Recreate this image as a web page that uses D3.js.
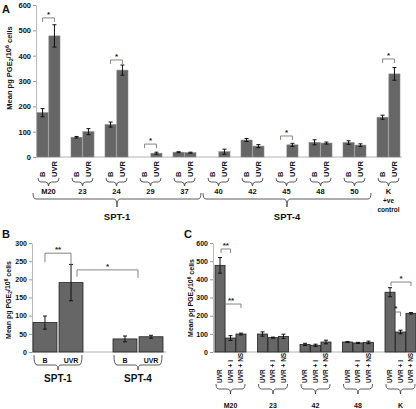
<!DOCTYPE html>
<html><head><meta charset="utf-8">
<script src="https://cdn.jsdelivr.net/npm/d3@7"></script>
<style>body{margin:0;background:#fff}svg{display:block;font-family:"Liberation Sans",Arial,sans-serif;font-weight:bold}</style>
</head><body>
<script>
// ---------- Data ----------
const groupsA = ["M20","23","24","29","37","40","42","45","48","50","K"];
const treatA = ["B","UVR"];
const bValsA = [175,78,128,0,19,0,67,0,58,57,157];
const bErrA  = [16,3,10,0,2,0,6,0,10,7,8];
const uvrValsA = [478,100,343,15,17,21,43,48,55,47,328];
const uvrErrA  = [44,12,20,4,2,10,6,6,4,5,25];
const ticksA = [0,100,200,300,400,500,600];
const sptGroups = [{name:"SPT-1", from:"M20", to:"37"},{name:"SPT-4", from:"40", to:"50"}];
const sigA = [{g:"M20",y:549,t:"*"},{g:"24",y:383,t:"*"},{g:"29",y:51,t:"*"},{g:"45",y:83,t:"*"},{g:"K",y:387,t:"*"}];

const groupsB = ["SPT-1","SPT-4"];
const treatB = ["B","UVR"];
const bValsB = [81,36];
const bErrB  = [18,8];
const uvrValsB = [191,42];
const uvrErrB  = [50,4];
const ticksB = [0,50,100,150,200,250,300];

const groupsC = ["M20","23","42","48","K"];
const treatC = ["UVR","UVR + I","UVR + NS"];
const uvrValsC = [477,99,42,55,329];
const uvrErrC  = [43,12,6,3,25];
const iValsC   = [77,79,37,50,110];
const iErrC    = [13,3,6,3,10];
const nsValsC  = [99,86,55,53,213];
const nsErrC   = [5,12,10,7,4];
const ticksC = [0,100,200,300,400,500,600];
const sigC = [{g:"M20",a:0,b:1,y:567,t:"**"},{g:"M20",a:0,b:2,y:264,t:"**"},{g:"K",a:0,b:2,y:385,t:"*"},{g:"K",a:0,b:1,y:220,t:"*"}];

// ---------- Helpers ----------
const svg = d3.select("body").append("svg").attr("width",416).attr("height",409);

function brace(x0,x1,yTop,yLine,yTick){
  const xc=(x0+x1)/2, r=Math.min(3,(x1-x0)/4);
  return `M${x0},${yTop} Q${x0},${yLine} ${x0+r},${yLine} L${xc-r},${yLine} Q${xc},${yLine} ${xc},${yTick} M${xc},${yTick} Q${xc},${yLine} ${xc+r},${yLine} L${x1-r},${yLine} Q${x1},${yLine} ${x1},${yTop}`;
}
function yTitle(x,y,size){
  const t = svg.append("text").attr("transform",`translate(${x},${y}) rotate(-90)`)
    .attr("text-anchor","middle").attr("font-size",size).attr("dy","0.35em").attr("fill","#111");
  t.append("tspan").text("Mean pg PGE");
  t.append("tspan").attr("font-size",size*0.7).attr("dy","0.3em").text("2");
  t.append("tspan").attr("dy","-0.3em").text("/10");
  t.append("tspan").attr("font-size",size*0.7).attr("dy","-0.4em").text("6");
  t.append("tspan").attr("dy","0.4em").text(" cells");
}
function yAxis(y,x,ticks,fs,col){
  const g = svg.append("g").attr("transform",`translate(${x},0)`)
    .call(d3.axisLeft(y).tickValues(ticks).tickSize(3).tickPadding(2).tickSizeOuter(0));
  g.select(".domain").attr("stroke",col);
  g.selectAll(".tick line").attr("stroke","#999");
  g.selectAll("text").attr("font-size",fs).attr("font-family","Liberation Sans, Arial").attr("font-weight","bold").attr("fill","#111");
}
function errBar(x,y,v,e){
  if(!e) return;
  const g=svg.append("g").attr("stroke","#111").attr("stroke-width",1);
  g.append("line").attr("x1",x).attr("x2",x).attr("y1",y(v+e)).attr("y2",y(v-e));
  g.append("line").attr("x1",x-2).attr("x2",x+2).attr("y1",y(v+e)).attr("y2",y(v+e));
  g.append("line").attr("x1",x-2).attr("x2",x+2).attr("y1",y(v-e)).attr("y2",y(v-e));
}
function sigBracket(xa,xb,yy,la,lb,txt,fs){
  svg.append("path").attr("d",`M${xa},${yy+la} L${xa},${yy} L${xb},${yy} L${xb},${yy+lb}`)
    .attr("fill","none").attr("stroke","#666").attr("stroke-width",0.8);
  svg.append("text").attr("x",(xa+xb)/2).attr("y",yy-1).attr("text-anchor","middle")
    .attr("font-size",fs).attr("fill","#222").text(txt);
}

// ---------- Panel A ----------
const yA = d3.scaleLinear().domain([0,600]).range([157,5]);
const xA = d3.scaleBand().domain(groupsA).range([37,400]).paddingInner(11/34).paddingOuter(0);
const xAi = d3.scaleBand().domain(treatA).range([0,xA.bandwidth()]).paddingInner(0.06);
svg.append("line").attr("x1",36).attr("x2",402).attr("y1",yA(0)).attr("y2",yA(0)).attr("stroke","#ccc").attr("stroke-width",1.5);
yAxis(yA,36,ticksA,7.5,"#bbb");
const dataA = groupsA.flatMap((g,i)=>[{g,t:"B",v:bValsA[i],e:bErrA[i]},{g,t:"UVR",v:uvrValsA[i],e:uvrErrA[i]}]);
svg.append("g").selectAll("rect").data(dataA.filter(d=>d.v>0)).join("rect")
  .attr("x",d=>xA(d.g)+xAi(d.t)).attr("width",xAi.bandwidth())
  .attr("y",d=>yA(d.v)).attr("height",d=>yA(0)-yA(d.v))
  .attr("fill","#666").attr("stroke","#8a8a8a").attr("stroke-width",0.6);
dataA.forEach(d=>{ if(d.v>0) errBar(xA(d.g)+xAi(d.t)+xAi.bandwidth()/2,yA,d.v,d.e); });
// rotated labels
dataA.forEach(d=>{
  const cx = xA(d.g)+xAi(d.t)+xAi.bandwidth()/2;
  svg.append("text").attr("transform",`translate(${cx},177) rotate(-90)`).attr("dy","0.35em")
    .attr("font-size",7.5).attr("fill","#111").text(d.t);
});
groupsA.forEach(g=>{
  const x0=xA(g)+1, x1=xA(g)+xA.bandwidth()-1;
  svg.append("path").attr("d",brace(x0,x1,178,182,186)).attr("fill","none").attr("stroke","#333").attr("stroke-width",0.8);
  svg.append("text").attr("x",(x0+x1)/2).attr("y",194).attr("text-anchor","middle").attr("font-size",7.5).attr("fill","#111").text(g);
});
svg.append("text").attr("x",xA("K")+xA.bandwidth()/2).attr("y",203).attr("text-anchor","middle").attr("font-size",6.5).attr("fill","#111").text("+ve");
svg.append("text").attr("x",xA("K")+xA.bandwidth()/2).attr("y",212).attr("text-anchor","middle").attr("font-size",6.5).attr("fill","#111").text("control");
sptGroups.forEach(s=>{
  const x0=xA(s.from)-4, x1=xA(s.to)+xA.bandwidth()+5;
  svg.append("path").attr("d",brace(x0,x1,193,199,207)).attr("fill","none").attr("stroke","#333").attr("stroke-width",0.8);
  svg.append("text").attr("x",(x0+x1)/2).attr("y",220).attr("text-anchor","middle").attr("font-size",9.5).attr("fill","#111").text(s.name);
});
sigA.forEach(s=>{
  const xa=xA(s.g)+xAi("B")+xAi.bandwidth()/2, xb=xA(s.g)+xAi("UVR")+xAi.bandwidth()/2;
  sigBracket(xa,xb,yA(s.y),4,4,s.t,8);
});
svg.append("text").attr("x",2).attr("y",13).attr("font-size",11).attr("fill","#111").text("A");
yTitle(9,68,7.5);

// ---------- Panel B ----------
const yB = d3.scaleLinear().domain([0,300]).range([352,243]);
const xB = d3.scaleBand().domain(groupsB).range([33,163]).paddingInner(0.375).paddingOuter(0);
const xBi = d3.scaleBand().domain(treatB).range([0,xB.bandwidth()]).paddingInner(0.08);
svg.append("line").attr("x1",32).attr("x2",166).attr("y1",yB(0)).attr("y2",yB(0)).attr("stroke","#ccc").attr("stroke-width",1.5);
yAxis(yB,32,ticksB,7,"#bbb");
const dataB = groupsB.flatMap((g,i)=>[{g,t:"B",v:bValsB[i],e:bErrB[i]},{g,t:"UVR",v:uvrValsB[i],e:uvrErrB[i]}]);
svg.append("g").selectAll("rect").data(dataB).join("rect")
  .attr("x",d=>xB(d.g)+xBi(d.t)).attr("width",xBi.bandwidth())
  .attr("y",d=>yB(d.v)).attr("height",d=>yB(0)-yB(d.v))
  .attr("fill","#666").attr("stroke","#222").attr("stroke-width",0.8);
dataB.forEach(d=>{
  const cx=xB(d.g)+xBi(d.t)+xBi.bandwidth()/2;
  errBar(cx,yB,d.v,d.e);
  svg.append("text").attr("x",cx).attr("y",363).attr("text-anchor","middle").attr("font-size",7).attr("fill","#111").text(d.t);
});
groupsB.forEach(g=>{
  const x0=xB(g)+1, x1=xB(g)+xB.bandwidth()-1;
  svg.append("path").attr("d",brace(x0,x1,355,365,370)).attr("fill","none").attr("stroke","#333").attr("stroke-width",0.8);
  svg.append("text").attr("x",(x0+x1)/2).attr("y",382).attr("text-anchor","middle").attr("font-size",10).attr("fill","#111").text(g);
});
{
  const xb1=xB("SPT-1")+xBi("B")+xBi.bandwidth()/2, xu1=xB("SPT-1")+xBi("UVR")+xBi.bandwidth()/2;
  sigBracket(xb1,xu1,yB(272),9,12,"**",8);
  sigBracket(xB("SPT-1")+xBi("UVR")+xBi.bandwidth()*0.75, xB("SPT-4")+xB.bandwidth()/2, yB(226),7,8,"*",8);
}
svg.append("text").attr("x",2).attr("y",238).attr("font-size",11).attr("fill","#111").text("B");
yTitle(8.5,300,7);

// ---------- Panel C ----------
const yC = d3.scaleLinear().domain([0,600]).range([352,243]);
const xC = d3.scaleBand().domain(groupsC).range([215,416]).paddingInner(11.5/42.5).paddingOuter(0);
const xCi = d3.scaleBand().domain(treatC).range([0,xC.bandwidth()]).paddingInner(0.04);
svg.append("line").attr("x1",213).attr("x2",416).attr("y1",yC(0)).attr("y2",yC(0)).attr("stroke","#ccc").attr("stroke-width",1.5);
yAxis(yC,213,ticksC,7,"#bbb");
const dataC = groupsC.flatMap((g,i)=>[
  {g,t:treatC[0],v:uvrValsC[i],e:uvrErrC[i]},
  {g,t:treatC[1],v:iValsC[i],e:iErrC[i]},
  {g,t:treatC[2],v:nsValsC[i],e:nsErrC[i]}]);
svg.append("g").selectAll("rect").data(dataC).join("rect")
  .attr("x",d=>xC(d.g)+xCi(d.t)).attr("width",xCi.bandwidth())
  .attr("y",d=>yC(d.v)).attr("height",d=>yC(0)-yC(d.v))
  .attr("fill","#666").attr("stroke","#222").attr("stroke-width",0.8);
dataC.forEach(d=>{
  const cx=xC(d.g)+xCi(d.t)+xCi.bandwidth()/2;
  errBar(cx,yC,d.v,d.e);
  svg.append("text").attr("transform",`translate(${cx},383) rotate(-90)`).attr("dy","0.35em")
    .attr("font-size",6.5).attr("fill","#111").text(d.t);
});
groupsC.forEach(g=>{
  const x0=xC(g)+1, x1=xC(g)+xC.bandwidth()-1;
  svg.append("path").attr("d",brace(x0,x1,384,389,394)).attr("fill","none").attr("stroke","#333").attr("stroke-width",0.8);
  svg.append("text").attr("x",(x0+x1)/2).attr("y",408).attr("text-anchor","middle").attr("font-size",7).attr("fill","#111").text(g);
});
sigC.forEach(s=>{
  const xa=xC(s.g)+xCi(treatC[s.a])+xCi.bandwidth()*0.6, xb=xC(s.g)+xCi(treatC[s.b])+xCi.bandwidth()/2;
  sigBracket(xa,xb,yC(s.y),4,4,s.t,8);
});
svg.append("text").attr("x",184).attr("y",238).attr("font-size",11).attr("fill","#111").text("C");
yTitle(191,298,7);
</script>
</body></html>
